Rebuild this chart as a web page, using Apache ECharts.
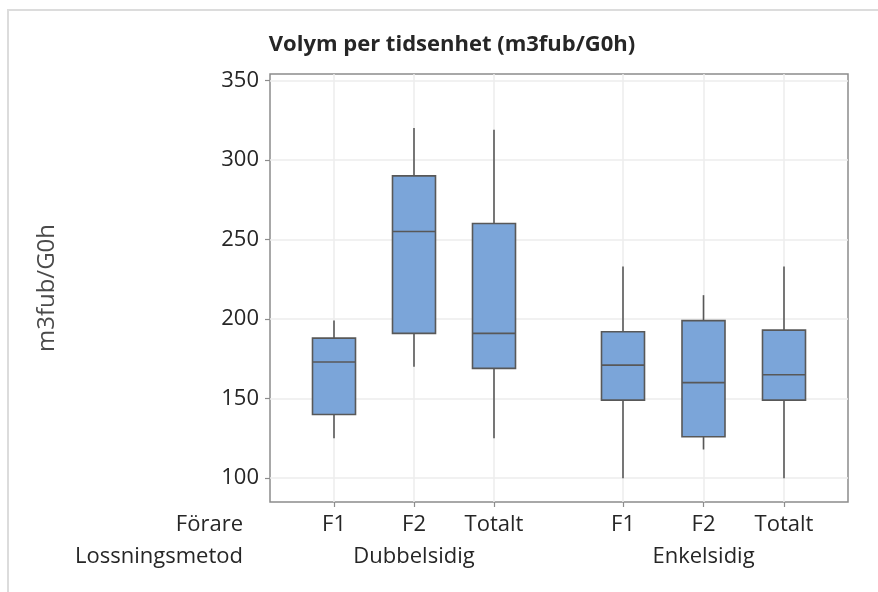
<!DOCTYPE html>
<html>
<head>
<meta charset="utf-8">
<script src="https://cdn.jsdelivr.net/npm/echarts@6/dist/echarts.min.js"></script>
<style>
  html, body { margin: 0; padding: 0; background: #fff; }
  #chart { width: 878px; height: 592px; }
</style>
</head>
<body>
<div id="chart"></div>
<script>
// Drivers (Förare) shown under each unloading method
const forare = ['F1', 'F2', 'Totalt'];
// Unloading methods (Lossningsmetod)
const lossningsmetod = ['Dubbelsidig', 'Enkelsidig'];
// Box statistics per driver, m3fub/G0h: [min, Q1, median, Q3, max]
const dubbelsidig = [
  [125, 140, 173, 188, 199],
  [170, 191, 255, 290, 320],
  [125, 169, 191, 260, 319]
];
const enkelsidig = [
  [100, 149, 171, 192, 233],
  [118, 126, 160, 199, 215],
  [100, 149, 165, 193, 233]
];
// Value axis ticks and range
const yTicks = [100, 150, 200, 250, 300, 350];
const yMin = 85;
const yMax = 354;

const FONT = '"Open Sans", "Noto Sans", sans-serif';
const TEXT = '#262626';
const FILL = '#7ba5d9';
const EDGE = '#585858';
const FRAME = '#8c8c8c';
const GRIDLINE = '#ededed';
const BOX_W = 43;
const LABEL_SIZE = 22;

// Box with whiskers (no end caps), placed through the axes of its grid
function renderBox(params, api) {
  const cat = api.value(0);
  const y = v => api.coord([cat, v])[1];
  const x = api.coord([cat, api.value(3)])[0];
  const lo = y(api.value(1)), q1 = y(api.value(2)), md = y(api.value(3)),
        q3 = y(api.value(4)), hi = y(api.value(5));
  const h = BOX_W / 2;
  const ls = { stroke: EDGE, lineWidth: 1.6 };
  return {
    type: 'group',
    children: [
      { type: 'line', shape: { x1: x, y1: hi, x2: x, y2: q3 }, style: ls },
      { type: 'line', shape: { x1: x, y1: q1, x2: x, y2: lo }, style: ls },
      { type: 'rect', shape: { x: x - h, y: q3, width: BOX_W, height: q1 - q3 },
        style: { fill: FILL, stroke: EDGE, lineWidth: 1.6 } },
      { type: 'line', shape: { x1: x - h, y1: md, x2: x + h, y2: md }, style: ls }
    ]
  };
}

function groupAxis(gridIndex, name) {
  return {
    gridIndex: gridIndex,
    type: 'category',
    data: forare,
    boundaryGap: false,
    axisLine: { show: false },
    axisTick: { show: true, length: 5, lineStyle: { color: FRAME, width: 1.2 } },
    axisLabel: { color: TEXT, fontSize: LABEL_SIZE, fontFamily: FONT, margin: 12 },
    splitLine: { show: true, lineStyle: { color: GRIDLINE, width: 1.5 } },
    name: name,
    nameLocation: 'middle',
    nameGap: 44,
    nameTextStyle: { color: TEXT, fontSize: LABEL_SIZE, fontFamily: FONT, verticalAlign: 'top' }
  };
}

function hiddenY(gridIndex) {
  return { gridIndex: gridIndex, type: 'value', min: yMin, max: yMax, show: false };
}

function toSeriesData(stats) {
  return forare.map((f, i) => [f].concat(stats[i]));
}

const chart = echarts.init(document.getElementById('chart'), null, { renderer: 'canvas' });
chart.setOption({
  animation: false,
  backgroundColor: '#ffffff',
  title: {
    text: 'Volym per tidsenhet (m3fub/G0h)',
    left: 447,
    textAlign: 'center',
    top: 29,
    textStyle: { color: TEXT, fontSize: 22, fontWeight: 'bold', fontFamily: FONT }
  },
  grid: [
    { left: 270, top: 74, width: 578, height: 428, show: true,
      borderColor: FRAME, borderWidth: 1.5, backgroundColor: 'transparent' },
    { left: 334, top: 74, width: 160, height: 428 },
    { left: 623, top: 74, width: 161, height: 428 }
  ],
  xAxis: [
    { gridIndex: 0, type: 'value', min: 0, max: 1, show: false },
    groupAxis(1, lossningsmetod[0]),
    groupAxis(2, lossningsmetod[1])
  ],
  yAxis: [
    {
      gridIndex: 0,
      type: 'value',
      min: yMin,
      max: yMax,
      axisLine: { show: false },
      axisTick: { show: true, length: 5, customValues: yTicks,
                  lineStyle: { color: FRAME, width: 1.2 } },
      axisLabel: { customValues: yTicks, color: TEXT, fontSize: LABEL_SIZE,
                   fontFamily: FONT, margin: 11 },
      splitLine: { show: true, lineStyle: { color: GRIDLINE, width: 1.5 } },
      name: 'm3fub/G0h',
      nameLocation: 'middle',
      nameRotate: 90,
      nameGap: 211,
      nameTextStyle: { color: '#4a4a4a', fontSize: 24, fontFamily: FONT }
    },
    hiddenY(1),
    hiddenY(2)
  ],
  series: [
    {
      type: 'custom',
      name: lossningsmetod[0],
      xAxisIndex: 1, yAxisIndex: 1,
      encode: { x: 0, y: [1, 2, 3, 4, 5] },
      renderItem: renderBox,
      data: toSeriesData(dubbelsidig),
      z: 3
    },
    {
      type: 'custom',
      name: lossningsmetod[1],
      xAxisIndex: 2, yAxisIndex: 2,
      encode: { x: 0, y: [1, 2, 3, 4, 5] },
      renderItem: renderBox,
      data: toSeriesData(enkelsidig),
      z: 3
    }
  ],
  graphic: [
    // outer panel edge along the top and left
    { type: 'polyline', silent: true,
      shape: { points: [[8, 592], [8, 10], [878, 10]] },
      style: { stroke: '#dcdcdc', lineWidth: 2, fill: null } },
    // row headers for the two category rows
    { type: 'text', silent: true,
      style: { text: 'Förare', x: 243, y: 514, align: 'right', verticalAlign: 'top',
               fill: TEXT, font: LABEL_SIZE + 'px ' + FONT } },
    { type: 'text', silent: true,
      style: { text: 'Lossningsmetod', x: 243, y: 546, align: 'right', verticalAlign: 'top',
               fill: TEXT, font: LABEL_SIZE + 'px ' + FONT } }
  ]
});
</script>
</body>
</html>
